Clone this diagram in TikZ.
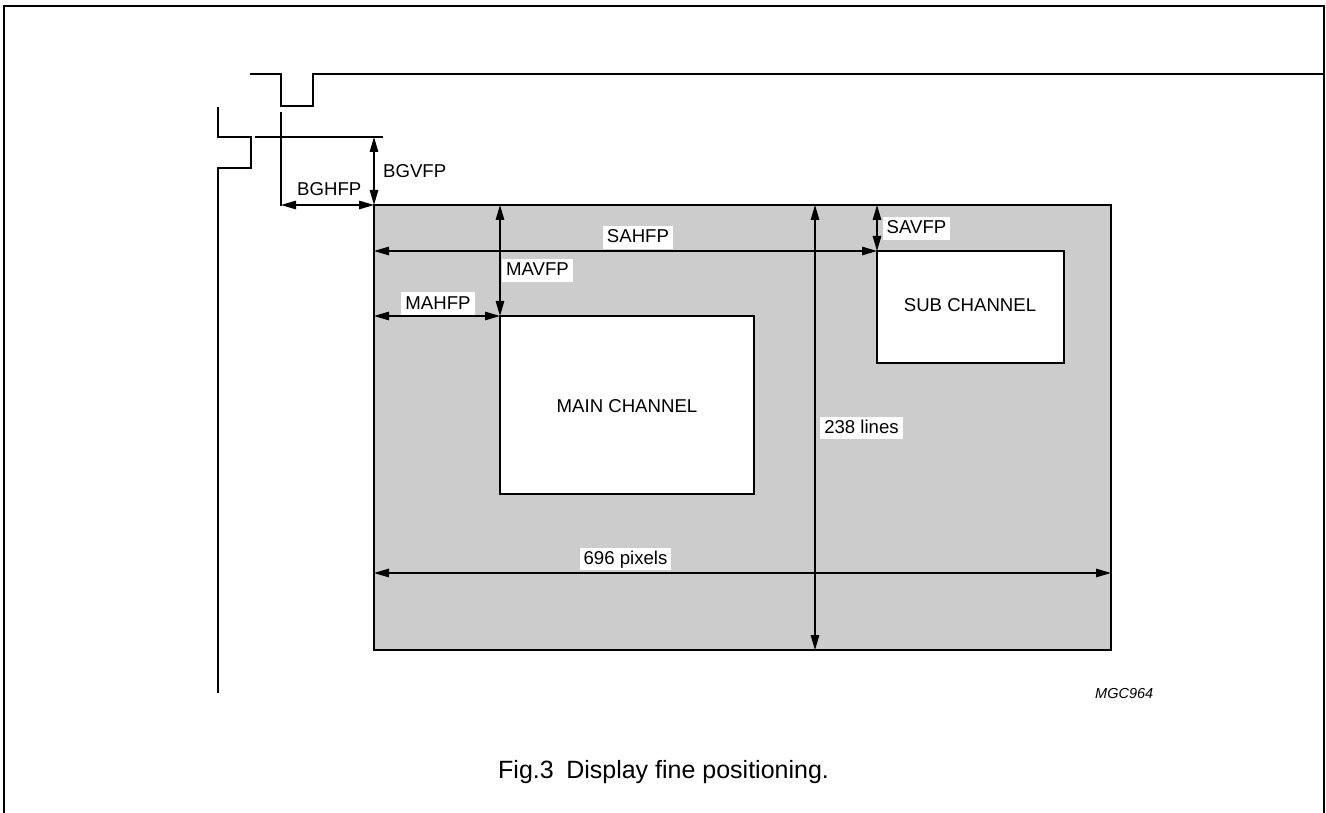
\documentclass[tikz,border=0pt]{standalone}
\usepackage{fontspec}
\setmainfont{Liberation Sans}
\usetikzlibrary{arrows.meta}
\definecolor{panelgray}{HTML}{CCCCCC}
\begin{document}
\begin{tikzpicture}[x=1pt,y=-1pt,
  thick line/.style={line width=2.2pt, line cap=butt, line join=miter},
  frame line/.style={line width=1.6pt},
  thin line/.style={line width=1.2pt},
  dim/.style={thin line, {Triangle[length=15pt,width=8.5pt]}-{Triangle[length=15pt,width=8.5pt]}},
  boxed/.style={draw, line width=2pt, inner sep=0pt, outer sep=0pt},
  lbl/.style={fill=white, font=\fontsize{18.6}{22}\selectfont, inner xsep=4pt, inner ysep=3pt, text height=13.5pt, text depth=3pt, anchor=base},
  plain/.style={font=\fontsize{18.6}{22}\selectfont, inner sep=0pt, anchor=base west},
  boxtext/.style={font=\fontsize{18.6}{22}\selectfont, inner sep=0pt, anchor=base}
]
\useasboundingbox (0,0) rectangle (1326,813);
% frame
\draw[frame line] (4,813) -- (4,6) -- (1324,6) -- (1324,813);
% signals
\draw[thick line] (250,74) -- (281,74) -- (281,106) -- (313,106) -- (313,74) -- (1325,74);
\draw[thick line] (218,107) -- (218,137) -- (251,137) -- (251,168) -- (218,168) -- (218,693);
% boxes
\node[boxed, fill=panelgray, minimum width=737pt, minimum height=445pt] (gray) at (742.5,427.5) {};
\node[boxed, fill=white, minimum width=254pt, minimum height=178pt] (main) at (627,405) {};
\node[boxed, fill=white, minimum width=187pt, minimum height=112pt] (sub) at (970.5,307) {};
\node[boxtext] (maintxt) at (627,412) {MAIN CHANNEL};
\node[boxtext] (subtxt) at (970,312) {SUB CHANNEL};
% guide lines
\coordinate (hg1) at (255,137);
\coordinate (hg2) at (383,137);
\coordinate (vg1) at (281,112);
\coordinate (vg2) at (281,206);
\draw[thin line] (hg1) -- (hg2);
\draw[thin line] (vg1) -- (vg2);
% dimension arrows
\coordinate (bgv) at (374,137);
\coordinate (bgh) at (281,205);
\coordinate (c238) at (815,0);
\coordinate (c696) at (0,573);
\draw[dim] (bgv) -- (gray.north west);
\draw[dim] (bgh) -- (gray.north west);
\draw[dim] (gray.north -| main.north west) -- (main.north west);
\draw[dim] (gray.west |- main.north west) -- (main.north west);
\draw[dim] (gray.west |- sub.north west) -- (sub.north west);
\draw[dim] (gray.north -| sub.north west) -- (sub.north west);
\draw[dim] (gray.north -| c238) -- (gray.south -| c238);
\draw[dim] (gray.west |- c696) -- (gray.east |- c696);
% labels
\node[plain] (lbgvfp) at (383,178) {BGVFP};
\node[plain] (lbghfp) at (297,196) {BGHFP};
\node[lbl] (lsahfp) at (638,243) {SAHFP};
\node[lbl] (lmavfp) at (537.5,276) {MAVFP};
\node[lbl] (lmahfp) at (438,309) {MAHFP};
\node[lbl] (lsavfp) at (916.5,234) {SAVFP};
\node[lbl] (l238) at (861.5,433) {238 lines};
\node[lbl] (l696) at (625.5,564) {696 pixels};
% figure id and caption
\node[font=\fontsize{14.5}{17}\selectfont\itshape, inner sep=0pt, anchor=base west] (mgc) at (1095,698) {MGC964};
\node[font=\fontsize{25}{30}\selectfont, inner sep=0pt, anchor=base west] (cap) at (498,778) {Fig.3\hspace{0.5em}Display fine positioning.};
\end{tikzpicture}
\end{document}
